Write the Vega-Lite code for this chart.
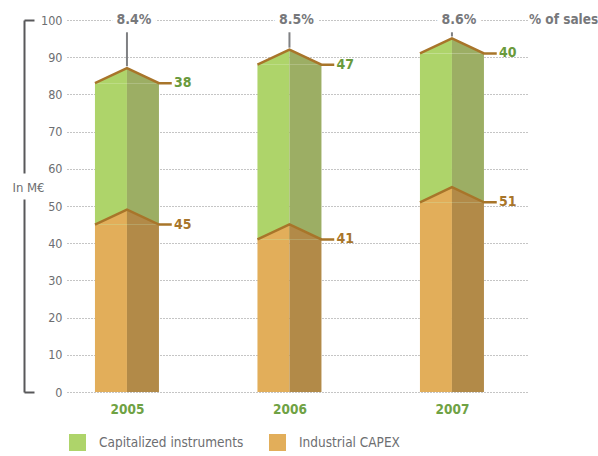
{
  "$schema": "https://vega.github.io/schema/vega-lite/v6.json",
  "autosize": "none",
  "padding": {"left": 67, "top": 20, "right": 70, "bottom": 64},
  "width": 461,
  "height": 372,
  "background": "white",
  "config": {
    "view": {"stroke": null},
    "font": "'Liberation Sans Narrow', 'DejaVu Sans Condensed', sans-serif",
    "axisX": {"domain": false, "ticks": false, "grid": false, "title": null, "labelColor": "#6fa244", "labelFontWeight": "bold", "labelFontSize": 13.5, "labelPadding": 10}
  },
  "datasets": {
    "capex": [
      {"year": 2005, "series": "Industrial CAPEX", "value": 45},
      {"year": 2005, "series": "Capitalized instruments", "value": 38},
      {"year": 2006, "series": "Industrial CAPEX", "value": 41},
      {"year": 2006, "series": "Capitalized instruments", "value": 47},
      {"year": 2007, "series": "Industrial CAPEX", "value": 51},
      {"year": 2007, "series": "Capitalized instruments", "value": 40}
    ],
    "pct": [
      {"year": 2005, "pct": "8.4%"},
      {"year": 2006, "pct": "8.5%"},
      {"year": 2007, "pct": "8.6%"}
    ]
  },
  "data": {"name": "capex"},
  "transform": [{"stack": "value", "groupby": ["year"], "sort": [{"field": "series", "order": "descending"}], "as": ["y0", "y1"]}],
  "resolve": {"axis": {"y": "independent"}},
  "layer": [
    {
      "mark": {"type": "bar", "width": 32, "xOffset": -16},
      "encoding": {
        "x": {"field": "year", "type": "quantitative", "scale": {"domain": [2004.631, 2007.468], "nice": false, "zero": false, "padding": 0}, "axis": {"values": [2005, 2006, 2007], "format": "d"}},
        "y": {"field": "y1", "type": "quantitative", "scale": {"domain": [0, 100], "nice": false, "padding": 0},
          "axis": {"values": [0, 10, 20, 30, 40, 50, 60, 70, 80, 90, 100], "domain": false, "ticks": false, "tickSize": 0, "labelPadding": 5, "labelFontSize": 12.5, "labelColor": "#6d6e71", "grid": true, "gridDash": [1, 2], "gridColor": "#8a8a8a", "gridWidth": 1, "title": null}},
        "y2": {"field": "y0"},
        "fill": {"field": "series", "type": "nominal",
          "scale": {"domain": ["Capitalized instruments", "Industrial CAPEX"], "range": ["#aed46a", "#e2ae5a"]},
          "legend": {"orient": "none", "legendX": 2, "legendY": 414, "direction": "horizontal", "title": null, "symbolType": "square", "symbolSize": 289, "symbolStrokeWidth": 0, "labelFontSize": 13.5, "labelLimit": 400, "labelColor": "#6d6e71", "labelOffset": 13, "columnPadding": 25}}
      }
    },
    {
      "mark": {"type": "bar", "width": 32, "xOffset": 16},
      "encoding": {
        "x": {"field": "year", "type": "quantitative"},
        "y": {"field": "y1", "type": "quantitative",
          "axis": {"values": [0, 100], "orient": "left", "offset": 43, "labels": false, "grid": false, "domain": true, "domainColor": "#58585a", "domainWidth": 2, "domainDash": [193, 26, 600, 0], "ticks": true, "tickSize": -10, "tickWidth": 2, "tickColor": "#58585a", "title": "In M€", "titleAngle": 0, "titleAlign": "center", "titleBaseline": "middle", "titleX": 4, "titleY": 167, "titleFontSize": 13, "titleFontWeight": "normal", "titleColor": "#6d6e71"}},
        "y2": {"field": "y0"},
        "fill": {"condition": {"test": "datum.series == 'Industrial CAPEX'", "value": "#b28a48"}, "value": "#9cae64"}
      }
    },
    {
      "mark": {"type": "point", "shape": "M-1,0L0,-0.47L0,0Z", "size": 4096, "filled": true, "opacity": 1, "strokeWidth": 0},
      "encoding": {
        "x": {"field": "year", "type": "quantitative"},
        "y": {"field": "y1", "type": "quantitative", "axis": null},
        "fill": {"condition": {"test": "datum.series == 'Industrial CAPEX'", "value": "#e2ae5a"}, "value": "#aed46a"}
      }
    },
    {
      "mark": {"type": "point", "shape": "M0,-0.47L1,0L0,0Z", "size": 4096, "filled": true, "opacity": 1, "strokeWidth": 0},
      "encoding": {
        "x": {"field": "year", "type": "quantitative"},
        "y": {"field": "y1", "type": "quantitative", "axis": null},
        "fill": {"condition": {"test": "datum.series == 'Industrial CAPEX'", "value": "#b28a48"}, "value": "#9cae64"}
      }
    },
    {
      "mark": {"type": "point", "shape": "M-1,0L0,-0.47L1,0L1.4,0", "size": 4096, "filled": false, "opacity": 1, "color": "#a8752a", "strokeWidth": 2.5},
      "encoding": {
        "x": {"field": "year", "type": "quantitative"},
        "y": {"field": "y1", "type": "quantitative", "axis": null}
      }
    },
    {
      "mark": {"type": "text", "align": "left", "baseline": "middle", "dx": 47, "fontSize": 14, "fontWeight": "bold"},
      "encoding": {
        "x": {"field": "year", "type": "quantitative"},
        "y": {"field": "y1", "type": "quantitative", "axis": null},
        "text": {"field": "value", "type": "quantitative"},
        "color": {"condition": {"test": "datum.series == 'Industrial CAPEX'", "value": "#a8752a"}, "value": "#6a9a3c"}
      }
    },
    {
      "transform": [{"filter": "datum.series == 'Capitalized instruments'"}],
      "mark": {"type": "rule", "color": "#7f8083", "strokeWidth": 2, "yOffset": -17},
      "encoding": {
        "x": {"field": "year", "type": "quantitative"},
        "y": {"field": "y1", "type": "quantitative", "axis": null},
        "y2": {"datum": 96.7}
      }
    },
    {
      "data": {"name": "pct"},
      "mark": {"type": "text", "align": "center", "baseline": "middle", "dx": 7, "fontSize": 14, "fontWeight": "bold", "stroke": "white", "strokeWidth": 10, "color": "white"},
      "encoding": {
        "x": {"field": "year", "type": "quantitative"},
        "y": {"datum": 100, "type": "quantitative", "axis": null},
        "text": {"field": "pct", "type": "nominal"}
      }
    },
    {
      "data": {"name": "pct"},
      "mark": {"type": "text", "align": "center", "baseline": "middle", "dx": 7, "fontSize": 14, "fontWeight": "bold", "color": "#77787b"},
      "encoding": {
        "x": {"field": "year", "type": "quantitative"},
        "y": {"datum": 100, "type": "quantitative", "axis": null},
        "text": {"field": "pct", "type": "nominal"}
      }
    },
    {
      "data": {"name": "pct"},
      "transform": [{"filter": "datum.year == 2007"}],
      "mark": {"type": "text", "align": "left", "baseline": "middle", "dx": 77, "fontSize": 13.5, "fontWeight": "bold", "color": "#77787b", "text": "% of sales"},
      "encoding": {
        "x": {"field": "year", "type": "quantitative"},
        "y": {"datum": 100, "type": "quantitative", "axis": null}
      }
    }
  ]
}
